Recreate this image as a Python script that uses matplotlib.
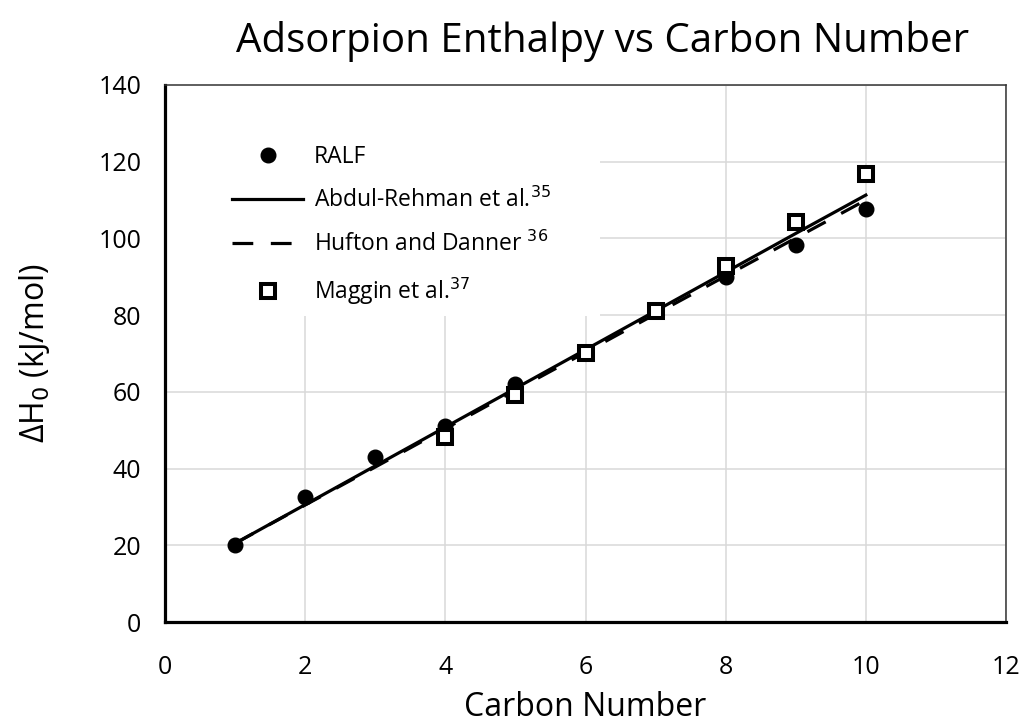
import matplotlib
matplotlib.use("Agg")
import matplotlib.pyplot as plt
from matplotlib.patches import Rectangle

plt.rcParams['font.family'] = ['Open Sans', 'DejaVu Sans']

# carbon numbers
carbon = [1, 2, 3, 4, 5, 6, 7, 8, 9, 10]
ralf = [20.2, 32.5, 42.9, 51.0, 62.0, 70.2, 81.0, 90.0, 98.4, 107.6]
abdul_rehman = [20.5, 30.6, 40.7, 50.8, 60.9, 71.0, 81.1, 91.2, 101.3, 111.3]
hufton_danner = [20.5, 30.5, 40.4, 50.4, 60.4, 70.3, 80.3, 90.2, 100.1, 110.0]

maggin_x = [4, 5, 6, 7, 8, 9, 10]
maggin = [48.2, 59.3, 70.2, 81.0, 92.7, 104.4, 116.8]

fig = plt.figure(figsize=(10.28, 7.28), dpi=100)
ax = fig.add_axes([165 / 1028, 1 - 622 / 728, 841 / 1028, 537 / 728])

ax.plot(carbon, ralf, 'o', color='black', markersize=10.5, label='RALF', zorder=4)
ax.plot(carbon, abdul_rehman, '-', color='black', linewidth=2.3,
        label='Abdul-Rehman et al.$^{35}$', zorder=3)
ax.plot(carbon, hufton_danner, '--', color='black', linewidth=2.3, dashes=(6.5, 5.5),
        label='Hufton and Danner $^{36}$', zorder=3)
ax.plot(maggin_x, maggin, 's', markerfacecolor='white', markeredgecolor='black',
        markeredgewidth=2.9, markersize=10, label='Maggin et al.$^{37}$', zorder=5)

ax.set_xlim(0, 12)
ax.set_ylim(0, 140)
ax.set_xticks(range(0, 13, 2))
ax.set_yticks(range(0, 141, 20))
ax.tick_params(length=0, labelsize=18)
ax.tick_params(axis='x', pad=24)
ax.tick_params(axis='y', pad=17)
ax.grid(True, color='#d9d9d9', linewidth=1.1)
ax.set_axisbelow(True)

for side in ['left', 'bottom']:
    ax.spines[side].set_linewidth(2.3)
    ax.spines[side].set_color('black')
for side in ['top', 'right']:
    ax.spines[side].set_linewidth(1.1)
    ax.spines[side].set_color('#333333')

ax.set_xlabel('Carbon Number', fontsize=23)
ax.xaxis.set_label_coords(0.5, -0.128)
ax.set_ylabel('ΔH$_0$ (kJ/mol)', fontsize=23)
ax.yaxis.set_label_coords(-0.134, 0.5)
ax.set_title('Adsorpion Enthalpy vs Carbon Number', fontsize=29, pad=24, x=0.52)

# white block behind the legend, as in the original
ax.add_patch(Rectangle((0, 0.570), 0.517, 0.430, transform=ax.transAxes,
                       facecolor='white', edgecolor='none', zorder=1))

leg = ax.legend(loc='upper left', bbox_to_anchor=(0.069, 0.905), frameon=False,
                fontsize=16.5, handlelength=3.1, labelspacing=0.82, borderpad=0.4,
                borderaxespad=0, handletextpad=0.45)

fig.savefig('out.png', dpi=100)
